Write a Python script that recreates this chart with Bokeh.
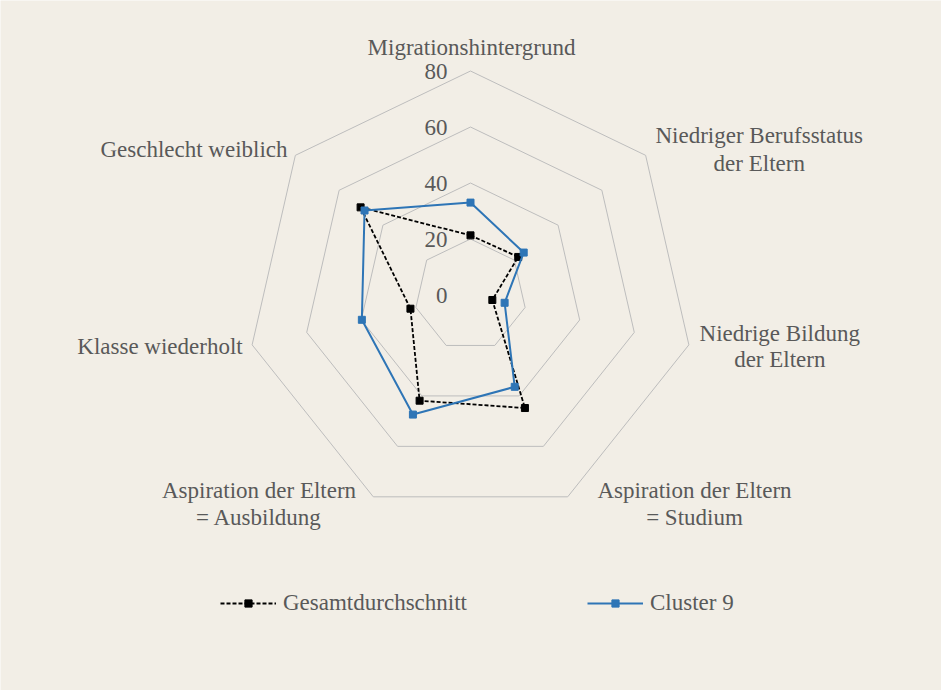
import numpy as np
from bokeh.plotting import figure
from bokeh.models import Range1d, Legend, LegendItem, ColumnDataSource
from bokeh.embed import file_html
from bokeh.resources import INLINE
from bokeh.core.properties import value

# ---------------- data ----------------
categories = [
    "Migrationshintergrund",
    "Niedriger Berufsstatus\nder Eltern",
    "Niedrige Bildung\nder Eltern",
    "Aspiration der Eltern\n= Studium",
    "Aspiration der Eltern\n= Ausbildung",
    "Klasse wiederholt",
    "Geschlecht weiblich",
]
gesamtdurchschnitt = [21.3, 21.8, 8.0, 44.8, 41.9, 22.0, 50.2]
cluster9 = [33.0, 24.3, 12.5, 36.4, 47.4, 39.8, 48.4]
ticks = [0, 20, 40, 60, 80]
series_names = ["Gesamtdurchschnitt", "Cluster 9"]

# ---------------- layout ----------------
W, H = 941, 690
CX, CY = 470.0, 294.5      # centre of the radar in figure pixels
SCALE = 2.8                # pixels per unit
RMAX = ticks[-1]
FONT = "Liberation Serif"
TXT = "#595959"
BG = "#F2EEE6"

# offsets (px) of each label line from the outer vertex of its axis
label_offsets = [
    [(1, -23.5)],
    [(113.6, -19.5), (113.6, 7.9)],
    [(90.9, -11.6), (90.9, 14.4)],
    [(126.8, -6.3), (126.8, 20.7)],
    [(-114.3, -6.3), (-114.3, 20.7)],
    [(-92.1, 1.7)],
    [(-101.4, -5.8)],
]

n = len(categories)
theta = 2 * np.pi * np.arange(n) / n


def polar(vals):
    v = np.asarray(vals, dtype=float)
    return v * np.sin(theta), v * np.cos(theta)


p = figure(
    width=W, height=H,
    x_range=Range1d(-CX / SCALE, (W - CX) / SCALE),
    y_range=Range1d(-(H - CY) / SCALE, CY / SCALE),
    x_axis_type=None, y_axis_type=None,
    output_backend="svg", toolbar_location=None,
    min_border=0, outline_line_color=None,
    background_fill_color=BG, border_fill_color=BG,
)
p.xgrid.visible = False
p.ygrid.visible = False

# grid rings
for t in ticks[1:]:
    gx, gy = polar([t] * n)
    p.line(np.append(gx, gx[0]), np.append(gy, gy[0]), line_color="#BDBDBD", line_width=1)

# tick labels
p.text(x=[0] * len(ticks), y=ticks, text=[str(t) for t in ticks],
       text_font=value(FONT), text_font_size="23px", text_color=TXT,
       text_align="right", text_baseline="middle", x_offset=-23)

# category labels
vx, vy = polar([RMAX] * n)
lx, ly, lt, lox, loy = [], [], [], [], []
for i, cat in enumerate(categories):
    for line, (ox, oy) in zip(cat.split("\n"), label_offsets[i]):
        lx.append(vx[i]); ly.append(vy[i]); lt.append(line); lox.append(ox); loy.append(oy)
lsrc = ColumnDataSource(dict(x=lx, y=ly, text=lt, xo=lox, yo=loy))
p.text(x="x", y="y", text="text", x_offset="xo", y_offset="yo", source=lsrc,
       text_font=value(FONT), text_font_size="23px", text_color=TXT,
       text_align="center", text_baseline="middle")

# series
styles = [
    dict(color="#000000", dash="4 2", width=1.8),
    dict(color="#2E75B6", dash="solid", width=2),
]
items = []
for name, vals, st in zip(series_names, [gesamtdurchschnitt, cluster9], styles):
    sx, sy = polar(vals)
    ln = p.line(np.append(sx, sx[0]), np.append(sy, sy[0]), line_color=st["color"],
                line_width=st["width"], line_dash=st["dash"])
    sc = p.scatter(sx, sy, marker="square", size=7, fill_color=st["color"], line_color=st["color"])
    items.append(LegendItem(label=name, renderers=[ln, sc]))

legend = Legend(items=items, orientation="horizontal", location=(220, 74),
                glyph_width=56, glyph_height=18, label_height=18, label_standoff=7,
                spacing=120, padding=0, margin=0,
                background_fill_alpha=0, border_line_alpha=0,
                label_text_font=FONT, label_text_font_size="23px", label_text_color=TXT)
p.add_layout(legend)

open("out.html", "w").write(file_html(p, INLINE))
